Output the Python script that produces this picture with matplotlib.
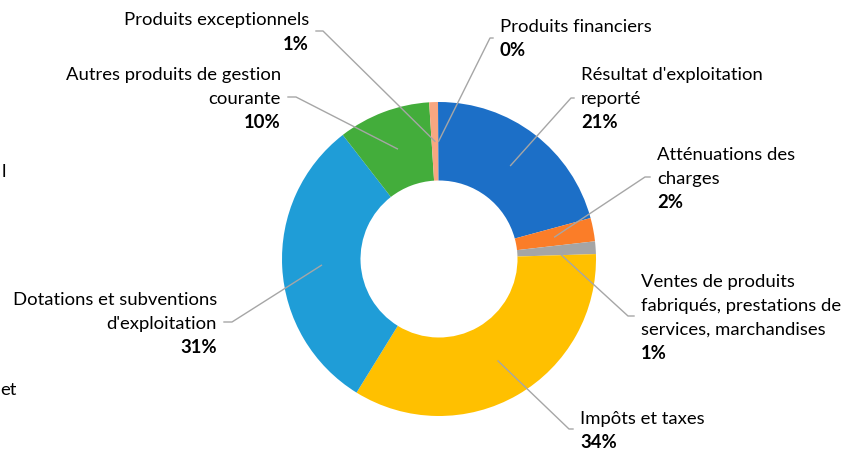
import matplotlib.pyplot as plt
import numpy as np

plt.rcParams['font.family'] = ['Lato', 'DejaVu Sans']

# data, clockwise from 12 o'clock
categories = [
    "Résultat d'exploitation\nreporté",
    "Atténuations des\ncharges",
    "Ventes de produits\nfabriqués, prestations de\nservices, marchandises",
    "Impôts et taxes",
    "Dotations et subventions\nd'exploitation",
    "Autres produits de gestion\ncourante",
    "Produits exceptionnels",
    "Produits financiers",
]
values = [20.8, 2.4, 1.3, 34.3, 30.7, 9.5, 0.9, 0.1]
colors = ['#1c6fc7', '#fb7d28', '#a5a5a5', '#ffc000',
          '#1f9dd7', '#43ad3b', '#f8a781', '#1c6fc7']

# label layout in pixels: (text x, first line y, align, elbow x, elbow y)
W, H = 843, 452
CX, CY, R = 439, 260, 157
layout = [
    (581, 75, 'left', 571, 99),
    (657, 155, 'left', 645, 178),
    (641, 282, 'left', 628, 317),
    (580, 419, 'left', 569, 430),
    (217, 300, 'right', 232, 323),
    (281, 75, 'right', 296, 98),
    (309, 20, 'right', 323, 32),
    (500, 27, 'left', 490, 39),
]
LINE = 24
FS = 13.3


def fig_xy(px, py):
    return px / W, 1 - py / H


fig = plt.figure(figsize=(W / 100, H / 100), dpi=100)
ax = fig.add_axes([(CX - R) / W, (H - CY - R) / H, 2 * R / W, 2 * R / H])
wedges, _ = ax.pie(values, colors=colors, startangle=90, counterclock=False,
                   radius=1, wedgeprops=dict(width=0.5, linewidth=0))
ax.set_xlim(-1, 1)
ax.set_ylim(-1, 1)
ax.set_aspect('equal')
ax.axis('off')

for w, name, v, (tx, ty, ha, ex, ey) in zip(wedges, categories, values, layout):
    ang = np.deg2rad((w.theta1 + w.theta2) / 2)
    r = 0.75
    px = CX + R * r * np.cos(ang)
    py = CY - R * r * np.sin(ang)
    lines = name.split('\n')
    for i, line in enumerate(lines):
        fig.text(*fig_xy(tx, ty + i * LINE), line, ha=ha, va='center',
                 fontsize=FS, color='black')
    fig.text(*fig_xy(tx, ty + len(lines) * LINE), '%.0f%%' % v, ha=ha,
             va='center', fontsize=FS, color='black', weight='bold')
    # leader: short horizontal near text, then straight to the slice
    start = tx - 7 if ha == 'left' else tx + 7
    xs = [start, ex, px]
    ys = [ey, ey, py]
    fig.add_artist(plt.Line2D([x / W for x in xs], [1 - y / H for y in ys],
                              color='#a6a6a6', lw=1))

# cut-off text at the left edge
fig.text(*fig_xy(2, 172), 'l', ha='left', va='center', fontsize=FS)
fig.text(*fig_xy(0, 390), 'et', ha='left', va='center', fontsize=FS)

fig.savefig('out.png', dpi=100)
